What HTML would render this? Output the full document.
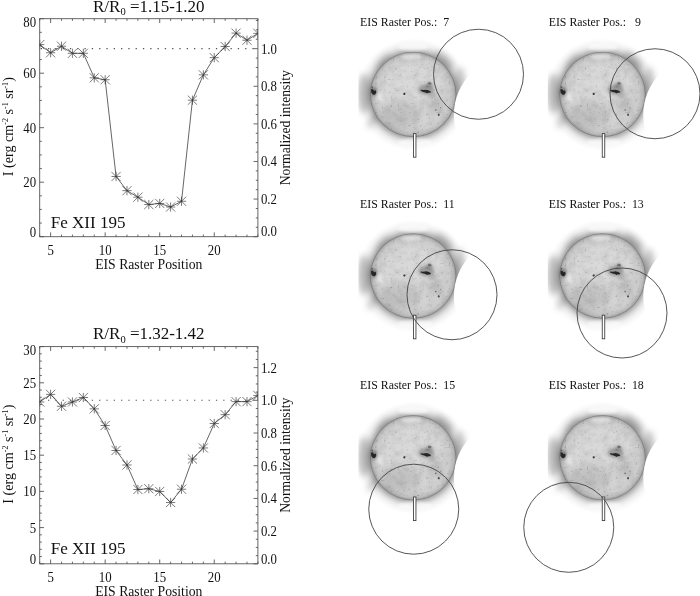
<!DOCTYPE html>
<html><head><meta charset="utf-8"><title>EIS Raster</title>
<style>html,body{margin:0;padding:0;background:#fff}svg{display:block}text{font-family:"Liberation Serif","Times New Roman",serif}</style>
</head><body>
<svg width="700" height="596" viewBox="0 0 700 596" fill="#111">
<defs>
<radialGradient id="halo" cx="0" cy="0" r="57" gradientUnits="userSpaceOnUse">
<stop offset="0" stop-color="#000" stop-opacity="0.34"/>
<stop offset="0.755" stop-color="#000" stop-opacity="0.34"/>
<stop offset="0.79" stop-color="#000" stop-opacity="0.25"/>
<stop offset="0.83" stop-color="#000" stop-opacity="0.15"/>
<stop offset="0.88" stop-color="#000" stop-opacity="0.07"/>
<stop offset="0.94" stop-color="#000" stop-opacity="0.025"/>
<stop offset="1" stop-color="#000" stop-opacity="0"/>
</radialGradient>
<radialGradient id="disc" cx="0" cy="0" r="43" gradientUnits="userSpaceOnUse">
<stop offset="0" stop-color="#dadada"/>
<stop offset="0.65" stop-color="#d7d7d7"/>
<stop offset="0.85" stop-color="#cecece"/>
<stop offset="0.93" stop-color="#c1c1c1"/>
<stop offset="0.98" stop-color="#a9a9a9"/>
<stop offset="1" stop-color="#8c8c8c"/>
</radialGradient>
<filter id="b0" x="-50%" y="-50%" width="200%" height="200%"><feGaussianBlur stdDeviation="0.45"/></filter>
<filter id="b1" x="-50%" y="-50%" width="200%" height="200%"><feGaussianBlur stdDeviation="0.65"/></filter>
<filter id="b2" x="-50%" y="-50%" width="200%" height="200%"><feGaussianBlur stdDeviation="1.6"/></filter>
<filter id="b3" x="-50%" y="-50%" width="200%" height="200%"><feGaussianBlur stdDeviation="3"/></filter>
<filter id="b4" x="-50%" y="-50%" width="200%" height="200%"><feGaussianBlur stdDeviation="5"/></filter>
<filter id="nz" x="0" y="0" width="100%" height="100%">
<feTurbulence type="fractalNoise" baseFrequency="0.45" numOctaves="1" seed="11" result="t"/>
<feColorMatrix in="t" type="matrix" values="0 0 0 0 0  0 0 0 0 0  0 0 0 0 0  3.2 0 0 0 -2.05" result="a0"/><feGaussianBlur in="a0" stdDeviation="0.45" result="a"/>
<feComposite in="a" in2="SourceGraphic" operator="in"/>
</filter>
<filter id="nz2" x="0" y="0" width="100%" height="100%">
<feTurbulence type="fractalNoise" baseFrequency="0.14" numOctaves="2" seed="3" result="t"/>
<feColorMatrix in="t" type="matrix" values="0 0 0 0 0  0 0 0 0 0  0 0 0 0 0  0 2 0 0 -0.8" result="a"/>
<feComposite in="a" in2="SourceGraphic" operator="in"/>
</filter>
<g id="sun" transform="scale(1 0.988)">
<g filter="url(#b3)" fill="#000">
<ellipse cx="-49" cy="-1" rx="7" ry="20" opacity="0.21"/>
<ellipse cx="-40" cy="26" rx="4" ry="10" opacity="0.15" transform="rotate(35 -40 26)"/>
<ellipse cx="47" cy="-6" rx="6" ry="22" opacity="0.19"/>
<ellipse cx="31" cy="-35" rx="5" ry="12" opacity="0.2" transform="rotate(-48 31 -35)"/>
<ellipse cx="-30" cy="-34" rx="4" ry="10" opacity="0.14" transform="rotate(42 -30 -34)"/>
</g>
<circle r="57" fill="url(#halo)"/>
<g filter="url(#b2)" fill="#fff"><ellipse cx="0" cy="-48" rx="15" ry="4" opacity="0.7"/><ellipse cx="2" cy="48.5" rx="17" ry="4" opacity="0.65"/></g>
<circle r="43" fill="url(#disc)"/>
<circle r="42.7" fill="none" stroke="#555" stroke-width="0.9" opacity="0.33" filter="url(#b1)"/>
<g filter="url(#b4)" fill="#000"><ellipse cx="-12" cy="20" rx="20" ry="14" opacity="0.1"/><ellipse cx="20" cy="8" rx="12" ry="12" opacity="0.06"/></g>
<circle r="42" fill="#000" filter="url(#nz)" opacity="0.3"/>
<circle r="42" fill="#000" filter="url(#nz2)" opacity="0.07"/>
<g filter="url(#b2)">
<ellipse cx="-39" cy="-3" rx="3.5" ry="5" fill="#555" opacity="0.6"/>
<ellipse cx="13" cy="-5" rx="8" ry="5" fill="#6a6a6a" opacity="0.55"/><ellipse cx="16" cy="-10" rx="3.5" ry="3" fill="#666" opacity="0.4"/><ellipse cx="19" cy="1" rx="4" ry="3" fill="#777" opacity="0.3"/>
<ellipse cx="-2" cy="-38.5" rx="11" ry="2" fill="#f2f2f2" opacity="0.6"/>
<ellipse cx="-33" cy="3" rx="2.2" ry="5" fill="#eee" opacity="0.75" transform="rotate(-20 -33 3)"/>
<ellipse cx="24" cy="12" rx="6" ry="8" fill="#999" opacity="0.2"/>
</g>
<g filter="url(#b1)">
<path d="M-42 -5.5l1.8 0.2l1.2 1.6l1.6 -0.6l0.6 2.6l-1.6 2l-2 -0.2l-1.6 -2.2z" fill="#262626"/>
<ellipse cx="-41" cy="-7.3" rx="0.7" ry="1" fill="#555"/>
<ellipse cx="-8.8" cy="-0.5" rx="1.1" ry="1.1" fill="#303030"/>
<path d="M7.5 -4.6l2.8 0.2l2.6 -0.4l3 0.8l2 1.5l-1 0.9l-2 0l-1 0.7l-1.4 -1l-2.4 -0.6l-2.6 -1.1z" fill="#262626"/>
<ellipse cx="16.5" cy="-11" rx="1.8" ry="1.3" fill="#707070"/>
<ellipse cx="14" cy="-8" rx="1.1" ry="0.9" fill="#808080"/>
<ellipse cx="25.6" cy="20.6" rx="0.9" ry="1.2" fill="#444"/>
<ellipse cx="22.6" cy="15.8" rx="0.8" ry="0.8" fill="#6a6a6a"/>
<ellipse cx="27.5" cy="13.5" rx="0.7" ry="0.7" fill="#8a8a8a"/>
</g>
</g>
</defs>
<rect width="700" height="596" fill="#fff"/>
<rect x="39.7" y="18.7" width="218.2" height="218.0" fill="none" stroke="#555" stroke-width="0.9"/>
<path d="M39.70 236.7v-2.1M39.70 18.7v2.1M50.61 236.7v-4.3M50.61 18.7v4.3M61.52 236.7v-2.1M61.52 18.7v2.1M72.43 236.7v-2.1M72.43 18.7v2.1M83.34 236.7v-2.1M83.34 18.7v2.1M94.25 236.7v-2.1M94.25 18.7v2.1M105.16 236.7v-4.3M105.16 18.7v4.3M116.07 236.7v-2.1M116.07 18.7v2.1M126.98 236.7v-2.1M126.98 18.7v2.1M137.89 236.7v-2.1M137.89 18.7v2.1M148.80 236.7v-2.1M148.80 18.7v2.1M159.71 236.7v-4.3M159.71 18.7v4.3M170.62 236.7v-2.1M170.62 18.7v2.1M181.53 236.7v-2.1M181.53 18.7v2.1M192.44 236.7v-2.1M192.44 18.7v2.1M203.35 236.7v-2.1M203.35 18.7v2.1M214.26 236.7v-4.3M214.26 18.7v4.3M225.17 236.7v-2.1M225.17 18.7v2.1M236.08 236.7v-2.1M236.08 18.7v2.1M246.99 236.7v-2.1M246.99 18.7v2.1M257.90 236.7v-2.1M257.90 18.7v2.1M39.7 236.70h4.3M39.7 223.07h2.1M39.7 209.45h2.1M39.7 195.82h2.1M39.7 182.20h4.3M39.7 168.57h2.1M39.7 154.95h2.1M39.7 141.32h2.1M39.7 127.70h4.3M39.7 114.07h2.1M39.7 100.45h2.1M39.7 86.82h2.1M39.7 73.20h4.3M39.7 59.57h2.1M39.7 45.95h2.1M39.7 32.32h2.1M39.7 18.70h4.3M257.9 236.70h-4.3M257.9 227.30h-2.1M257.9 217.90h-2.1M257.9 208.50h-2.1M257.9 199.09h-4.3M257.9 189.69h-2.1M257.9 180.29h-2.1M257.9 170.89h-2.1M257.9 161.49h-4.3M257.9 152.09h-2.1M257.9 142.69h-2.1M257.9 133.29h-2.1M257.9 123.88h-4.3M257.9 114.48h-2.1M257.9 105.08h-2.1M257.9 95.68h-2.1M257.9 86.28h-4.3M257.9 76.88h-2.1M257.9 67.48h-2.1M257.9 58.08h-2.1M257.9 48.67h-4.3M257.9 39.27h-2.1M257.9 29.87h-2.1M257.9 20.47h-2.1" stroke="#555" stroke-width="0.9" fill="none"/>
<line x1="40.7" y1="48.67" x2="257.9" y2="48.67" stroke="#555" stroke-width="1.1" stroke-dasharray="1.3 6" stroke-dashoffset="0"/>
<clipPath id="c18"><rect x="39.7" y="18.7" width="218.2" height="218.0"/></clipPath>
<g clip-path="url(#c18)"><polyline points="39.70,44.59 50.61,52.76 61.52,46.22 72.43,53.31 83.34,53.31 94.25,77.83 105.16,79.74 116.07,176.48 126.98,190.65 137.89,197.19 148.80,204.54 159.71,203.45 170.62,207.00 181.53,201.27 192.44,100.18 203.35,74.83 214.26,57.67 225.17,46.49 236.08,33.14 246.99,40.23 257.90,33.41" fill="none" stroke="#333" stroke-width="0.75"/>
<path d="M35.10 44.59h9.2M39.70 39.99v9.2M35.10 39.99l9.2 9.2M35.10 49.19l9.2 -9.2M46.01 52.76h9.2M50.61 48.16v9.2M46.01 48.16l9.2 9.2M46.01 57.36l9.2 -9.2M56.92 46.22h9.2M61.52 41.62v9.2M56.92 41.62l9.2 9.2M56.92 50.82l9.2 -9.2M67.83 53.31h9.2M72.43 48.71v9.2M67.83 48.71l9.2 9.2M67.83 57.91l9.2 -9.2M78.74 53.31h9.2M83.34 48.71v9.2M78.74 48.71l9.2 9.2M78.74 57.91l9.2 -9.2M89.65 77.83h9.2M94.25 73.23v9.2M89.65 73.23l9.2 9.2M89.65 82.43l9.2 -9.2M100.56 79.74h9.2M105.16 75.14v9.2M100.56 75.14l9.2 9.2M100.56 84.34l9.2 -9.2M111.47 176.48h9.2M116.07 171.88v9.2M111.47 171.88l9.2 9.2M111.47 181.08l9.2 -9.2M122.38 190.65h9.2M126.98 186.05v9.2M122.38 186.05l9.2 9.2M122.38 195.25l9.2 -9.2M133.29 197.19h9.2M137.89 192.59v9.2M133.29 192.59l9.2 9.2M133.29 201.79l9.2 -9.2M144.20 204.54h9.2M148.80 199.94v9.2M144.20 199.94l9.2 9.2M144.20 209.14l9.2 -9.2M155.11 203.45h9.2M159.71 198.85v9.2M155.11 198.85l9.2 9.2M155.11 208.05l9.2 -9.2M166.02 207.00h9.2M170.62 202.40v9.2M166.02 202.40l9.2 9.2M166.02 211.60l9.2 -9.2M176.93 201.27h9.2M181.53 196.67v9.2M176.93 196.67l9.2 9.2M176.93 205.87l9.2 -9.2M187.84 100.18h9.2M192.44 95.58v9.2M187.84 95.58l9.2 9.2M187.84 104.78l9.2 -9.2M198.75 74.83h9.2M203.35 70.23v9.2M198.75 70.23l9.2 9.2M198.75 79.43l9.2 -9.2M209.66 57.67h9.2M214.26 53.07v9.2M209.66 53.07l9.2 9.2M209.66 62.27l9.2 -9.2M220.57 46.49h9.2M225.17 41.89v9.2M220.57 41.89l9.2 9.2M220.57 51.09l9.2 -9.2M231.48 33.14h9.2M236.08 28.54v9.2M231.48 28.54l9.2 9.2M231.48 37.74l9.2 -9.2M242.39 40.23h9.2M246.99 35.63v9.2M242.39 35.63l9.2 9.2M242.39 44.83l9.2 -9.2M253.30 33.41h9.2M257.90 28.81v9.2M253.30 28.81l9.2 9.2M253.30 38.01l9.2 -9.2" stroke="#333" stroke-width="0.65" fill="none"/></g>
<text transform="translate(50.61 254.50) scale(0.93 1)" font-size="13.8" text-anchor="middle">5</text>
<text transform="translate(105.16 254.50) scale(0.93 1)" font-size="13.8" text-anchor="middle">10</text>
<text transform="translate(159.71 254.50) scale(0.93 1)" font-size="13.8" text-anchor="middle">15</text>
<text transform="translate(214.26 254.50) scale(0.93 1)" font-size="13.8" text-anchor="middle">20</text>
<text transform="translate(36.1 236.90) scale(0.93 1)" font-size="13.8" text-anchor="end">0</text>
<text transform="translate(36.1 187.10) scale(0.93 1)" font-size="13.8" text-anchor="end">20</text>
<text transform="translate(36.1 132.60) scale(0.93 1)" font-size="13.8" text-anchor="end">40</text>
<text transform="translate(36.1 78.10) scale(0.93 1)" font-size="13.8" text-anchor="end">60</text>
<text transform="translate(36.1 26.90) scale(0.93 1)" font-size="13.8" text-anchor="end">80</text>
<text transform="translate(260.9 236.40) scale(0.93 1)" font-size="13.8">0.0</text>
<text transform="translate(260.9 203.99) scale(0.93 1)" font-size="13.8">0.2</text>
<text transform="translate(260.9 166.39) scale(0.93 1)" font-size="13.8">0.4</text>
<text transform="translate(260.9 128.78) scale(0.93 1)" font-size="13.8">0.6</text>
<text transform="translate(260.9 91.18) scale(0.93 1)" font-size="13.8">0.8</text>
<text transform="translate(260.9 53.57) scale(0.93 1)" font-size="13.8">1.0</text>
<text x="148.80" y="11.70" font-size="17" text-anchor="middle">R/R<tspan font-size="10.5" dy="3.6">0</tspan><tspan dy="-3.6"> =1.15-1.20</tspan></text>
<text x="148.80" y="268.70" font-size="13.7" text-anchor="middle">EIS Raster Position</text>
<text x="50.70" y="227.80" font-size="17.05">Fe XII 195</text>
<text transform="translate(12.6 126.70) rotate(-90)" font-size="14.15" text-anchor="middle">I (erg cm<tspan font-size="8" dy="-5">-2</tspan><tspan dy="5"> s</tspan><tspan font-size="8" dy="-5">-1</tspan><tspan dy="5"> sr</tspan><tspan font-size="8" dy="-5">-1</tspan><tspan dy="5">)</tspan></text>
<text transform="translate(290.4 127.70) rotate(-90)" font-size="13.7" text-anchor="middle">Normalized intensity</text>
<rect x="39.7" y="346.6" width="218.2" height="217.19999999999993" fill="none" stroke="#555" stroke-width="0.9"/>
<path d="M39.70 563.8v-2.1M39.70 346.6v2.1M50.61 563.8v-4.3M50.61 346.6v4.3M61.52 563.8v-2.1M61.52 346.6v2.1M72.43 563.8v-2.1M72.43 346.6v2.1M83.34 563.8v-2.1M83.34 346.6v2.1M94.25 563.8v-2.1M94.25 346.6v2.1M105.16 563.8v-4.3M105.16 346.6v4.3M116.07 563.8v-2.1M116.07 346.6v2.1M126.98 563.8v-2.1M126.98 346.6v2.1M137.89 563.8v-2.1M137.89 346.6v2.1M148.80 563.8v-2.1M148.80 346.6v2.1M159.71 563.8v-4.3M159.71 346.6v4.3M170.62 563.8v-2.1M170.62 346.6v2.1M181.53 563.8v-2.1M181.53 346.6v2.1M192.44 563.8v-2.1M192.44 346.6v2.1M203.35 563.8v-2.1M203.35 346.6v2.1M214.26 563.8v-4.3M214.26 346.6v4.3M225.17 563.8v-2.1M225.17 346.6v2.1M236.08 563.8v-2.1M236.08 346.6v2.1M246.99 563.8v-2.1M246.99 346.6v2.1M257.90 563.8v-2.1M257.90 346.6v2.1M39.7 563.80h4.3M39.7 556.56h2.1M39.7 549.32h2.1M39.7 542.08h2.1M39.7 534.84h2.1M39.7 527.60h4.3M39.7 520.36h2.1M39.7 513.12h2.1M39.7 505.88h2.1M39.7 498.64h2.1M39.7 491.40h4.3M39.7 484.16h2.1M39.7 476.92h2.1M39.7 469.68h2.1M39.7 462.44h2.1M39.7 455.20h4.3M39.7 447.96h2.1M39.7 440.72h2.1M39.7 433.48h2.1M39.7 426.24h2.1M39.7 419.00h4.3M39.7 411.76h2.1M39.7 404.52h2.1M39.7 397.28h2.1M39.7 390.04h2.1M39.7 382.80h4.3M39.7 375.56h2.1M39.7 368.32h2.1M39.7 361.08h2.1M39.7 353.84h2.1M39.7 346.60h4.3M257.9 563.80h-4.3M257.9 555.63h-2.1M257.9 547.45h-2.1M257.9 539.28h-2.1M257.9 531.10h-4.3M257.9 522.93h-2.1M257.9 514.76h-2.1M257.9 506.58h-2.1M257.9 498.41h-4.3M257.9 490.23h-2.1M257.9 482.06h-2.1M257.9 473.89h-2.1M257.9 465.71h-4.3M257.9 457.54h-2.1M257.9 449.36h-2.1M257.9 441.19h-2.1M257.9 433.02h-4.3M257.9 424.84h-2.1M257.9 416.67h-2.1M257.9 408.49h-2.1M257.9 400.32h-4.3M257.9 392.15h-2.1M257.9 383.97h-2.1M257.9 375.80h-2.1M257.9 367.62h-4.3M257.9 359.45h-2.1M257.9 351.28h-2.1" stroke="#555" stroke-width="0.9" fill="none"/>
<line x1="40.7" y1="400.32" x2="257.9" y2="400.32" stroke="#555" stroke-width="1.1" stroke-dasharray="1.3 6" stroke-dashoffset="0"/>
<clipPath id="c346"><rect x="39.7" y="346.6" width="218.2" height="217.19999999999993"/></clipPath>
<g clip-path="url(#c346)"><polyline points="39.70,401.99 50.61,394.38 61.52,406.26 72.43,401.99 83.34,397.50 94.25,408.86 105.16,425.52 116.07,450.49 126.98,464.97 137.89,489.52 148.80,488.72 159.71,491.47 170.62,502.48 181.53,489.23 192.44,459.04 203.35,447.96 214.26,423.49 225.17,414.66 236.08,401.62 246.99,401.62 257.90,395.47" fill="none" stroke="#333" stroke-width="0.75"/>
<path d="M35.10 401.99h9.2M39.70 397.39v9.2M35.10 397.39l9.2 9.2M35.10 406.59l9.2 -9.2M46.01 394.38h9.2M50.61 389.78v9.2M46.01 389.78l9.2 9.2M46.01 398.98l9.2 -9.2M56.92 406.26h9.2M61.52 401.66v9.2M56.92 401.66l9.2 9.2M56.92 410.86l9.2 -9.2M67.83 401.99h9.2M72.43 397.39v9.2M67.83 397.39l9.2 9.2M67.83 406.59l9.2 -9.2M78.74 397.50h9.2M83.34 392.90v9.2M78.74 392.90l9.2 9.2M78.74 402.10l9.2 -9.2M89.65 408.86h9.2M94.25 404.26v9.2M89.65 404.26l9.2 9.2M89.65 413.46l9.2 -9.2M100.56 425.52h9.2M105.16 420.92v9.2M100.56 420.92l9.2 9.2M100.56 430.12l9.2 -9.2M111.47 450.49h9.2M116.07 445.89v9.2M111.47 445.89l9.2 9.2M111.47 455.09l9.2 -9.2M122.38 464.97h9.2M126.98 460.37v9.2M122.38 460.37l9.2 9.2M122.38 469.57l9.2 -9.2M133.29 489.52h9.2M137.89 484.92v9.2M133.29 484.92l9.2 9.2M133.29 494.12l9.2 -9.2M144.20 488.72h9.2M148.80 484.12v9.2M144.20 484.12l9.2 9.2M144.20 493.32l9.2 -9.2M155.11 491.47h9.2M159.71 486.87v9.2M155.11 486.87l9.2 9.2M155.11 496.07l9.2 -9.2M166.02 502.48h9.2M170.62 497.88v9.2M166.02 497.88l9.2 9.2M166.02 507.08l9.2 -9.2M176.93 489.23h9.2M181.53 484.63v9.2M176.93 484.63l9.2 9.2M176.93 493.83l9.2 -9.2M187.84 459.04h9.2M192.44 454.44v9.2M187.84 454.44l9.2 9.2M187.84 463.64l9.2 -9.2M198.75 447.96h9.2M203.35 443.36v9.2M198.75 443.36l9.2 9.2M198.75 452.56l9.2 -9.2M209.66 423.49h9.2M214.26 418.89v9.2M209.66 418.89l9.2 9.2M209.66 428.09l9.2 -9.2M220.57 414.66h9.2M225.17 410.06v9.2M220.57 410.06l9.2 9.2M220.57 419.26l9.2 -9.2M231.48 401.62h9.2M236.08 397.02v9.2M231.48 397.02l9.2 9.2M231.48 406.22l9.2 -9.2M242.39 401.62h9.2M246.99 397.02v9.2M242.39 397.02l9.2 9.2M242.39 406.22l9.2 -9.2M253.30 395.47h9.2M257.90 390.87v9.2M253.30 390.87l9.2 9.2M253.30 400.07l9.2 -9.2" stroke="#333" stroke-width="0.65" fill="none"/></g>
<text transform="translate(50.61 581.60) scale(0.93 1)" font-size="13.8" text-anchor="middle">5</text>
<text transform="translate(105.16 581.60) scale(0.93 1)" font-size="13.8" text-anchor="middle">10</text>
<text transform="translate(159.71 581.60) scale(0.93 1)" font-size="13.8" text-anchor="middle">15</text>
<text transform="translate(214.26 581.60) scale(0.93 1)" font-size="13.8" text-anchor="middle">20</text>
<text transform="translate(36.1 564.00) scale(0.93 1)" font-size="13.8" text-anchor="end">0</text>
<text transform="translate(36.1 532.50) scale(0.93 1)" font-size="13.8" text-anchor="end">5</text>
<text transform="translate(36.1 496.30) scale(0.93 1)" font-size="13.8" text-anchor="end">10</text>
<text transform="translate(36.1 460.10) scale(0.93 1)" font-size="13.8" text-anchor="end">15</text>
<text transform="translate(36.1 423.90) scale(0.93 1)" font-size="13.8" text-anchor="end">20</text>
<text transform="translate(36.1 387.70) scale(0.93 1)" font-size="13.8" text-anchor="end">25</text>
<text transform="translate(36.1 354.80) scale(0.93 1)" font-size="13.8" text-anchor="end">30</text>
<text transform="translate(260.9 563.50) scale(0.93 1)" font-size="13.8">0.0</text>
<text transform="translate(260.9 536.00) scale(0.93 1)" font-size="13.8">0.2</text>
<text transform="translate(260.9 503.31) scale(0.93 1)" font-size="13.8">0.4</text>
<text transform="translate(260.9 470.61) scale(0.93 1)" font-size="13.8">0.6</text>
<text transform="translate(260.9 437.92) scale(0.93 1)" font-size="13.8">0.8</text>
<text transform="translate(260.9 405.22) scale(0.93 1)" font-size="13.8">1.0</text>
<text transform="translate(260.9 372.52) scale(0.93 1)" font-size="13.8">1.2</text>
<text x="148.80" y="339.10" font-size="17" text-anchor="middle">R/R<tspan font-size="10.5" dy="3.6">0</tspan><tspan dy="-3.6"> =1.32-1.42</tspan></text>
<text x="148.80" y="595.80" font-size="13.7" text-anchor="middle">EIS Raster Position</text>
<text x="50.70" y="553.90" font-size="17.05">Fe XII 195</text>
<text transform="translate(12.6 454.20) rotate(-90)" font-size="14.15" text-anchor="middle">I (erg cm<tspan font-size="8" dy="-5">-2</tspan><tspan dy="5"> s</tspan><tspan font-size="8" dy="-5">-1</tspan><tspan dy="5"> sr</tspan><tspan font-size="8" dy="-5">-1</tspan><tspan dy="5">)</tspan></text>
<text transform="translate(290.4 455.20) rotate(-90)" font-size="13.7" text-anchor="middle">Normalized intensity</text>
<clipPath id="p00"><rect x="358.45" y="34.400000000000006" width="120" height="120"/></clipPath>
<g clip-path="url(#p00)"><use href="#sun" x="413.15" y="94.4"/><circle cx="511.95" cy="114.4" r="58" fill="#fff"/></g>
<rect x="413.45" y="133.60000000000002" width="2.5" height="23.6" fill="#fff" stroke="#3a3a3a" stroke-width="0.85"/>
<circle cx="478.5" cy="74.25" r="45" fill="none" stroke="#444" stroke-width="0.9"/>
<text x="360" y="26.2" font-size="11.85" xml:space="preserve">EIS Raster Pos.:  7</text>
<clipPath id="p10"><rect x="547.8" y="34.400000000000006" width="120" height="120"/></clipPath>
<g clip-path="url(#p10)"><use href="#sun" x="602.5" y="94.4"/><circle cx="701.3" cy="114.4" r="58" fill="#fff"/></g>
<rect x="602.25" y="133.60000000000002" width="2.5" height="23.6" fill="#fff" stroke="#3a3a3a" stroke-width="0.85"/>
<circle cx="655" cy="93.75" r="45" fill="none" stroke="#444" stroke-width="0.9"/>
<text x="548.7" y="26.2" font-size="11.85" xml:space="preserve">EIS Raster Pos.:   9</text>
<clipPath id="p01"><rect x="358.45" y="216.0" width="120" height="120"/></clipPath>
<g clip-path="url(#p01)"><use href="#sun" x="413.15" y="276.0"/><circle cx="511.95" cy="296.0" r="58" fill="#fff"/></g>
<rect x="413.45" y="315.2" width="2.5" height="23.6" fill="#fff" stroke="#3a3a3a" stroke-width="0.85"/>
<circle cx="452" cy="294.75" r="45" fill="none" stroke="#444" stroke-width="0.9"/>
<text x="360" y="207.5" font-size="11.85" xml:space="preserve">EIS Raster Pos.:  11</text>
<clipPath id="p11"><rect x="547.8" y="216.0" width="120" height="120"/></clipPath>
<g clip-path="url(#p11)"><use href="#sun" x="602.5" y="276.0"/><circle cx="701.3" cy="296.0" r="58" fill="#fff"/></g>
<rect x="602.25" y="315.2" width="2.5" height="23.6" fill="#fff" stroke="#3a3a3a" stroke-width="0.85"/>
<circle cx="622" cy="313" r="45" fill="none" stroke="#444" stroke-width="0.9"/>
<text x="548.7" y="207.5" font-size="11.85" xml:space="preserve">EIS Raster Pos.:  13</text>
<clipPath id="p02"><rect x="358.45" y="397.8" width="120" height="120"/></clipPath>
<g clip-path="url(#p02)"><use href="#sun" x="413.15" y="457.8"/><circle cx="511.95" cy="477.8" r="58" fill="#fff"/></g>
<rect x="413.45" y="497.0" width="2.5" height="23.6" fill="#fff" stroke="#3a3a3a" stroke-width="0.85"/>
<circle cx="413.75" cy="509.2" r="45" fill="none" stroke="#444" stroke-width="0.9"/>
<text x="360" y="389.3" font-size="11.85" xml:space="preserve">EIS Raster Pos.:  15</text>
<clipPath id="p12"><rect x="547.8" y="397.8" width="120" height="120"/></clipPath>
<g clip-path="url(#p12)"><use href="#sun" x="602.5" y="457.8"/><circle cx="701.3" cy="477.8" r="58" fill="#fff"/></g>
<rect x="602.25" y="497.0" width="2.5" height="23.6" fill="#fff" stroke="#3a3a3a" stroke-width="0.85"/>
<circle cx="568.75" cy="527.3" r="45" fill="none" stroke="#444" stroke-width="0.9"/>
<text x="548.7" y="389.3" font-size="11.85" xml:space="preserve">EIS Raster Pos.:  18</text>
</svg>
</body></html>
